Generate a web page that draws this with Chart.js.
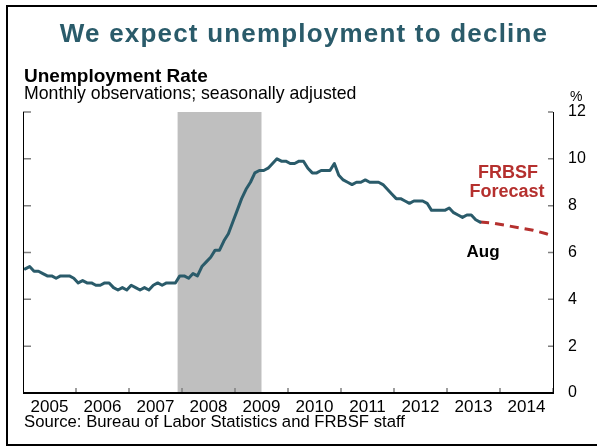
<!DOCTYPE html>
<html>
<head>
<meta charset="utf-8">
<script src="https://cdn.jsdelivr.net/npm/chart.js@4"></script>
<style>
  html, body { margin: 0; padding: 0; background: #fff; overflow: hidden; }
</style>
</head>
<body>
<canvas id="unempChart" width="597" height="447"></canvas>
<script>
// Unemployment rate, monthly, seasonally adjusted (Jan 2005 - Aug 2013)
const startYear = 2005;
const yearLabels = [2005, 2006, 2007, 2008, 2009, 2010, 2011, 2012, 2013, 2014];
const rate2005 = [5.3, 5.4, 5.2, 5.2, 5.1, 5.0, 5.0, 4.9, 5.0, 5.0, 5.0, 4.9];
const rate2006 = [4.7, 4.8, 4.7, 4.7, 4.6, 4.6, 4.7, 4.7, 4.5, 4.4, 4.5, 4.4];
const rate2007 = [4.6, 4.5, 4.4, 4.5, 4.4, 4.6, 4.7, 4.6, 4.7, 4.7, 4.7, 5.0];
const rate2008 = [5.0, 4.9, 5.1, 5.0, 5.4, 5.6, 5.8, 6.1, 6.1, 6.5, 6.8, 7.3];
const rate2009 = [7.8, 8.3, 8.7, 9.0, 9.4, 9.5, 9.5, 9.6, 9.8, 10.0, 9.9, 9.9];
const rate2010 = [9.8, 9.8, 9.9, 9.9, 9.6, 9.4, 9.4, 9.5, 9.5, 9.5, 9.8, 9.3];
const rate2011 = [9.1, 9.0, 8.9, 9.0, 9.0, 9.1, 9.0, 9.0, 9.0, 8.9, 8.7, 8.5];
const rate2012 = [8.3, 8.3, 8.2, 8.1, 8.2, 8.2, 8.2, 8.1, 7.8, 7.8, 7.8, 7.8];
const rate2013 = [7.9, 7.7, 7.6, 7.5, 7.6, 7.6, 7.4, 7.3];

// FRBSF forecast (decimal years)
const forecastDates = [2013.625, 2013.875, 2014.125, 2014.375, 2014.625, 2014.875, 2015.0];
const forecastRate  = [7.3, 7.25, 7.15, 7.05, 6.95, 6.8, 6.7];

// recession shading, Dec 2007 - mid 2009
const recession = [2007.917, 2009.5];
const yTicks = [0, 2, 4, 6, 8, 10, 12];

const allRates = [rate2005, rate2006, rate2007, rate2008, rate2009, rate2010, rate2011, rate2012, rate2013];
const actualPoints = [];
allRates.forEach((yr, i) => {
  yr.forEach((v, m) => actualPoints.push({ x: startYear + i + (m + 0.5) / 12, y: v }));
});
const forecastPoints = forecastDates.map((d, i) => ({ x: d, y: forecastRate[i] }));

const TEAL = '#2a5b6a';
const RED = '#b5302e';
const FONT = '"Liberation Sans", Arial, sans-serif';

const decor = {
  id: 'decor',
  beforeDraw(chart) {
    const ctx = chart.ctx;
    ctx.save();
    ctx.fillStyle = '#fff';
    ctx.fillRect(0, 0, chart.width, chart.height);
    ctx.restore();
  },
  beforeDatasetsDraw(chart) {
    const { ctx, chartArea: a, scales: { x } } = chart;
    const x0 = x.getPixelForValue(recession[0]);
    const x1 = x.getPixelForValue(recession[1]);
    ctx.save();
    ctx.fillStyle = '#bfbfbf';
    ctx.fillRect(x0, a.top, x1 - x0, a.bottom - a.top);
    ctx.restore();
  },
  afterDraw(chart) {
    const { ctx, chartArea: a, scales: { x, y } } = chart;
    ctx.save();

    // tick marks (grey, pointing inward)
    ctx.strokeStyle = '#7f7f7f';
    ctx.lineWidth = 1.5;
    yTicks.forEach(v => {
      const py = y.getPixelForValue(v);
      ctx.beginPath();
      ctx.moveTo(a.left, py); ctx.lineTo(a.left + 8, py);
      ctx.moveTo(a.right, py); ctx.lineTo(a.right - 5, py);
      ctx.stroke();
    });
    yearLabels.slice(1).concat([2015]).forEach(yr => {
      const px = x.getPixelForValue(yr);
      ctx.beginPath();
      ctx.moveTo(px, a.bottom); ctx.lineTo(px, a.bottom - 5);
      ctx.stroke();
    });

    // axis lines
    ctx.strokeStyle = '#000';
    ctx.lineWidth = 1;
    ctx.beginPath();
    ctx.moveTo(a.left + 0.5, a.top); ctx.lineTo(a.left + 0.5, a.bottom);
    ctx.moveTo(a.right + 0.5, a.top); ctx.lineTo(a.right + 0.5, a.bottom);
    ctx.stroke();
    ctx.lineWidth = 2;
    ctx.beginPath();
    ctx.moveTo(a.left, a.bottom); ctx.lineTo(a.right + 1, a.bottom);
    ctx.stroke();

    // outer frame
    ctx.lineWidth = 2;
    ctx.strokeRect(7, 6, 700, 439);

    // title
    ctx.fillStyle = TEAL;
    ctx.font = 'bold 26px ' + FONT;
    ctx.textAlign = 'center';
    ctx.textBaseline = 'alphabetic';
    if ('letterSpacing' in ctx) ctx.letterSpacing = '1.2px';
    ctx.fillText('We expect unemployment to decline', 304, 42);
    if ('letterSpacing' in ctx) ctx.letterSpacing = '0px';

    // headings
    ctx.textAlign = 'left';
    ctx.fillStyle = '#000';
    ctx.font = 'bold 19px ' + FONT;
    ctx.fillText('Unemployment Rate', 24, 82);
    ctx.font = '17.7px ' + FONT;
    ctx.fillText('Monthly observations; seasonally adjusted', 24, 99);
    ctx.font = '14px ' + FONT;
    ctx.fillText('%', 570, 101);
    ctx.font = '16.7px ' + FONT;
    ctx.fillText('Source: Bureau of Labor Statistics and FRBSF staff', 24, 427);

    // annotations
    ctx.textAlign = 'center';
    ctx.fillStyle = RED;
    ctx.font = 'bold 18px ' + FONT;
    ctx.fillText('FRBSF', 508, 178);
    ctx.fillText('Forecast', 507, 197);
    ctx.fillStyle = '#000';
    ctx.font = 'bold 17px ' + FONT;
    ctx.fillText('Aug', 483, 257);

    ctx.restore();
  }
};

new Chart(document.getElementById('unempChart').getContext('2d'), {
  type: 'line',
  data: {
    datasets: [
      {
        label: 'Unemployment rate',
        data: actualPoints,
        borderColor: TEAL,
        borderWidth: 3,
        pointRadius: 0,
        tension: 0,
        borderJoinStyle: 'round',
        borderCapStyle: 'round'
      },
      {
        label: 'FRBSF forecast',
        data: forecastPoints,
        borderColor: RED,
        borderWidth: 3,
        borderDash: [9, 6],
        pointRadius: 0,
        tension: 0
      }
    ]
  },
  options: {
    responsive: false,
    animation: false,
    devicePixelRatio: 1,
    layout: { padding: { left: 23, top: 112, right: 0, bottom: 0 } },
    scales: {
      x: {
        type: 'linear',
        min: 2005,
        max: 2015,
        grid: { display: false, drawTicks: false },
        border: { display: false },
        afterBuildTicks: scale => {
          scale.ticks = yearLabels.map(yr => ({ value: yr + 0.5 }));
        },
        afterFit: scale => { scale.height = 54; },
        ticks: {
          autoSkip: false,
          maxRotation: 0,
          padding: 4,
          color: '#000',
          font: { family: FONT, size: 17 },
          callback: v => String(Math.floor(v))
        }
      },
      y: {
        position: 'right',
        min: 0,
        max: 12,
        grid: { display: false, drawTicks: false },
        border: { display: false },
        afterBuildTicks: scale => {
          scale.ticks = yTicks.map(v => ({ value: v }));
        },
        afterFit: scale => { scale.width = 44; },
        ticks: {
          padding: 15,
          color: '#000',
          font: { family: FONT, size: 16 }
        }
      }
    },
    plugins: {
      legend: { display: false },
      tooltip: { enabled: false }
    }
  },
  plugins: [decor]
});
</script>
</body>
</html>
